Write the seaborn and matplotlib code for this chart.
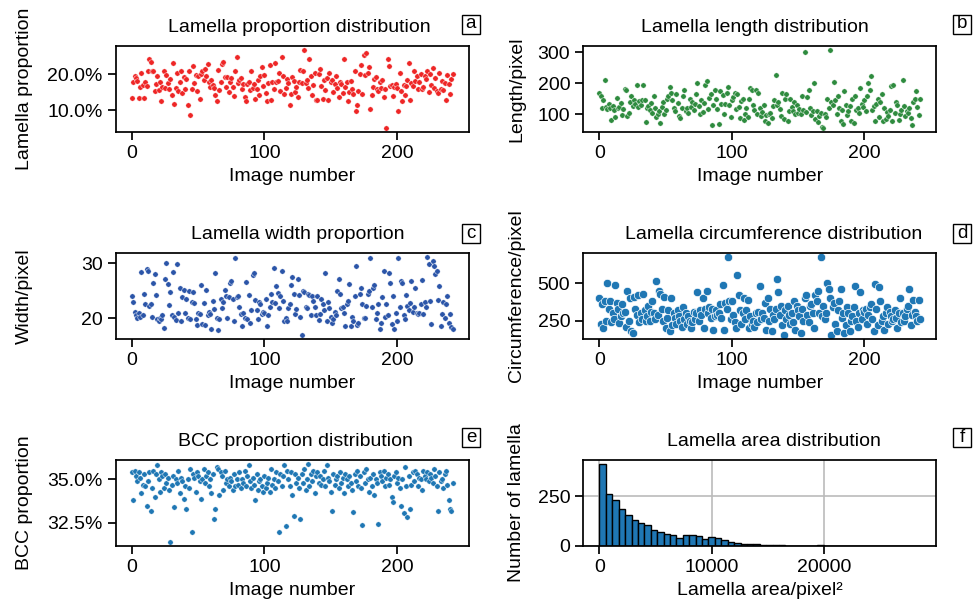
import numpy as np
import pandas as pd
import matplotlib
matplotlib.use('Agg')
import matplotlib.pyplot as plt
from matplotlib.patches import Rectangle
from matplotlib.ticker import MultipleLocator, PercentFormatter
import seaborn as sns

sns.set_theme(style='ticks')
plt.rcParams['font.family'] = ['Liberation Sans', 'DejaVu Sans']
plt.rcParams['axes.edgecolor'] = 'black'
plt.rcParams['xtick.color'] = 'black'
plt.rcParams['ytick.color'] = 'black'
plt.rcParams['text.color'] = 'black'
plt.rcParams['axes.labelcolor'] = 'black'

FS = 14

# --- data ---
lamella_prop = [  # %
    13.5, 17.8, 19.5, 19.0, 18.2, 13.5, 16.5, 20.5, 17.0, 13.5, 18.0, 16.8, 20.8, 24.2, 23.5, 21.0, 20.8, 15.5, 17.2, 19.5,
    15.6, 18.0, 12.6, 16.5, 21.0, 16.2, 19.8, 17.5, 15.8, 18.8, 14.2, 23.2, 11.8, 16.2, 20.5, 15.3, 17.9, 20.8, 14.8, 19.4,
    16.0, 18.6, 11.6, 20.8, 8.7, 15.8, 22.2, 17.5, 19.8, 15.5, 19.6, 13.2, 20.0, 21.0, 18.5, 21.6, 19.5, 22.8, 17.8, 16.5,
    18.4, 17.0, 16.2, 14.2, 12.6, 21.2, 15.6, 17.8, 23.0, 23.4, 19.4, 16.5, 19.2, 15.0, 17.8, 19.0, 16.4, 14.0, 20.8, 24.8,
    17.6, 18.4, 19.0, 16.0, 17.2, 13.7, 12.5, 17.4, 17.8, 15.6, 21.0, 16.2, 17.4, 13.2, 15.8, 18.5, 14.2, 19.5, 22.0, 16.8,
    19.8, 14.8, 12.6, 17.5, 22.6, 12.8, 18.0, 16.0, 23.2, 17.8, 18.2, 20.3, 15.5, 24.8, 19.5, 14.6, 16.2, 18.8, 17.5, 11.5,
    14.5, 19.4, 18.2, 15.2, 16.6, 13.8, 18.0, 21.2, 17.6, 21.0, 26.8, 17.5, 18.5, 16.2, 24.4, 19.5, 14.2, 17.0, 20.5, 13.0,
    13.0, 20.0, 21.5, 16.8, 13.2, 18.4, 15.6, 19.0, 12.8, 20.5, 17.8, 18.5, 15.0, 17.2, 19.6, 16.2, 13.6, 18.0, 17.4, 14.8,
    24.3, 16.5, 18.0, 12.6, 15.2, 18.2, 16.0, 14.6, 21.0, 9.8, 11.6, 15.4, 20.2, 22.5, 14.5, 25.4, 19.8, 26.0, 20.5, 22.0,
    10.3, 14.2, 16.5, 18.8, 19.3, 16.0, 15.5, 17.8, 16.2, 18.4, 13.8, 16.0, 5.0, 24.2, 22.3, 16.8, 17.0, 14.0, 16.5, 17.2,
    16.2, 9.8, 20.5, 15.5, 12.5, 17.0, 14.2, 16.8, 18.3, 23.2, 13.0, 17.5, 16.8, 20.8, 18.2, 19.6, 16.0, 17.8, 20.2, 15.8,
    16.5, 19.5, 18.8, 21.0, 15.2, 20.2, 17.0, 21.8, 16.2, 19.0, 15.4, 14.8, 20.5, 16.0, 18.2, 15.6, 17.5, 13.0, 19.8, 17.2,
    14.5, 18.6, 20.0,
]

lamella_length = [
    168, 158, 120, 145, 212, 125, 118, 135, 122, 82, 128, 115, 90, 152, 120, 125, 138, 98, 118, 182,
    180, 96, 105, 140, 160, 128, 145, 132, 196, 125, 142, 130, 145, 196, 145, 75, 120, 128, 115, 138,
    105, 158, 120, 90, 100, 110, 72, 125, 140, 100, 115, 150, 160, 188, 168, 145, 122, 110, 165, 138,
    95, 88, 120, 160, 178, 110, 120, 105, 150, 125, 140, 115, 135, 165, 200, 128, 100, 145, 108, 138,
    195, 208, 118, 152, 165, 67, 130, 180, 150, 118, 68, 175, 132, 162, 100, 135, 170, 188, 130, 92,
    145, 155, 170, 118, 165, 125, 88, 142, 148, 82, 100, 120, 90, 150, 185, 178, 130, 115, 178, 100,
    168, 120, 95, 108, 130, 80, 98, 72, 102, 105, 88, 128, 145, 228, 130, 140, 118, 95, 170, 85,
    150, 165, 80, 110, 148, 125, 110, 140, 100, 130, 105, 118, 102, 160, 115, 302, 108, 155, 180, 122,
    98, 110, 200, 85, 112, 75, 95, 105, 60, 55, 100, 90, 150, 120, 308, 140, 130, 205, 145, 100,
    160, 120, 80, 115, 70, 175, 130, 98, 110, 128, 80, 148, 72, 158, 115, 120, 105, 185, 135, 125,
    145, 110, 160, 200, 180, 225, 115, 128, 78, 135, 150, 92, 140, 165, 78, 120, 85, 108, 95, 115,
    190, 78, 195, 105, 140, 130, 82, 100, 115, 210, 128, 95, 112, 105, 120, 88, 65, 140, 148, 175,
    125, 98, 150,
]

lamella_width = [
    24.1, 23.0, 21.2, 20.6, 20.0, 21.0, 20.2, 28.5, 20.5, 24.5, 22.5, 29.0, 28.7, 22.2, 22.6, 20.2, 26.4, 28.0, 24.2, 19.8,
    19.5, 20.0, 19.8, 20.5, 18.2, 27.2, 30.0, 26.2, 22.4, 24.8, 20.5, 28.5, 20.2, 19.6, 29.8, 21.0, 25.5, 19.5, 23.8, 25.2,
    21.0, 23.5, 20.0, 25.0, 19.8, 23.0, 24.8, 22.8, 19.9, 18.8, 21.0, 20.8, 26.0, 19.0, 22.8, 18.8, 25.2, 20.5, 21.2, 20.8,
    18.0, 23.2, 21.6, 28.2, 20.0, 17.8, 19.8, 23.5, 21.8, 23.0, 25.2, 24.0, 20.0, 23.8, 26.5, 26.8, 23.5, 19.5, 31.0, 23.8,
    24.0, 22.0, 20.8, 18.5, 21.0, 20.0, 26.6, 19.8, 24.2, 19.2, 21.5, 27.8, 28.2, 23.4, 21.5, 19.8, 23.0, 22.5, 20.8, 21.2,
    21.0, 23.5, 18.5, 20.6, 22.0, 24.5, 23.0, 29.2, 22.8, 25.8, 24.6, 21.8, 24.0, 28.6, 23.2, 19.5, 20.0, 19.5, 21.8, 22.5,
    26.0, 27.5, 24.5, 20.8, 21.6, 27.2, 24.2, 20.2, 16.9, 25.0, 24.8, 22.0, 21.8, 24.5, 24.2, 20.6, 24.0, 23.2, 22.0, 20.5,
    24.0, 19.6, 20.8, 23.5, 22.5, 21.5, 28.2, 19.5, 23.0, 21.8, 20.2, 19.2, 19.8, 21.2, 20.5, 25.0, 27.2, 24.5, 21.8, 22.0,
    21.0, 18.5, 22.5, 23.2, 26.2, 18.5, 20.2, 19.5, 24.0, 29.6, 18.8, 19.2, 24.5, 25.5, 22.5, 20.0, 20.0, 22.2, 24.5, 25.0,
    31.0, 22.0, 25.5, 26.0, 19.8, 21.0, 22.5, 18.0, 19.2, 23.8, 28.6, 20.2, 22.6, 20.5, 28.2, 26.5, 19.0, 24.0, 18.0, 21.0,
    19.5, 31.0, 22.0, 26.8, 26.5, 20.5, 19.8, 24.2, 22.2, 21.5, 22.8, 26.8, 21.2, 22.0, 25.5, 21.0, 20.8, 21.0, 22.5, 27.0,
    20.8, 23.0, 22.0, 31.2, 29.8, 23.2, 19.0, 30.5, 29.6, 28.0, 28.6, 23.3, 25.8, 18.5, 20.8, 23.0, 20.0, 22.5, 24.0, 19.2,
    20.8, 18.4, 18.0,
]

lamella_circ = [
    400, 230, 360, 200, 380, 250, 505, 330, 380, 240, 300, 260, 490, 370, 330, 235, 280, 360, 300, 310,
    210, 450, 250, 400, 180, 170, 410, 330, 290, 420, 240, 300, 260, 430, 320, 250, 280, 350, 250, 310,
    380, 300, 260, 518, 290, 450, 430, 330, 250, 410, 200, 270, 320, 180, 400, 220, 300, 270, 230, 320,
    280, 250, 210, 340, 260, 300, 230, 280, 250, 200, 240, 310, 260, 300, 444, 250, 320, 290, 400, 200,
    330, 450, 300, 340, 270, 330, 190, 280, 320, 290, 300, 360, 270, 489, 190, 370, 330, 678, 380, 260,
    380, 290, 240, 200, 556, 420, 320, 230, 300, 400, 260, 320, 390, 200, 280, 230, 250, 210, 300, 240,
    310, 482, 260, 300, 270, 370, 190, 400, 250, 330, 180, 290, 260, 330, 533, 440, 290, 350, 220, 154,
    320, 260, 350, 290, 230, 300, 240, 380, 190, 350, 320, 280, 170, 330, 250, 400, 420, 290, 240, 350,
    360, 300, 200, 420, 380, 450, 300, 678, 280, 350, 260, 300, 505, 460, 400, 154, 340, 370, 230, 180,
    320, 380, 460, 270, 300, 170, 220, 340, 300, 180, 250, 280, 340, 480, 250, 210, 300, 440, 260, 320,
    310, 330, 230, 290, 340, 360, 260, 180, 495, 330, 220, 473, 380, 250, 280, 190, 300, 340, 230, 310,
    280, 250, 260, 320, 270, 200, 300, 400, 240, 300, 250, 280, 330, 350, 460, 220, 290, 390, 310, 280,
    250, 390, 260,
]

bcc_prop = [  # %
    35.4, 33.8, 35.5, 35.2, 34.9, 35.4, 35.1, 34.2, 34.7, 35.3, 34.6, 33.5, 34.9, 35.4, 33.2, 34.5, 35.5, 34.0, 35.3, 35.8,
    35.0, 34.3, 35.4, 35.2, 34.5, 35.3, 34.8, 35.1, 34.4, 31.4, 34.7, 35.2, 33.4, 35.0, 34.8, 35.5, 34.2, 35.1, 34.9, 33.9,
    34.6, 33.3, 35.0, 34.5, 35.6, 32.0, 35.3, 35.1, 34.3, 35.4, 35.2, 34.9, 33.9, 35.0, 35.6, 34.8, 35.2, 35.4, 34.6, 35.0,
    34.2, 35.3, 32.7, 33.3, 35.7, 35.6, 34.1, 35.4, 35.2, 34.4, 35.5, 34.8, 35.0, 34.6, 35.1, 34.9, 34.4, 35.3, 34.6, 35.0,
    34.7, 35.4, 34.5, 35.0, 34.8, 35.5, 34.6, 35.2, 35.8, 34.9, 34.5, 35.1, 34.7, 33.8, 35.3, 34.4, 34.9, 35.0, 34.6, 34.3,
    35.2, 34.5, 34.8, 35.1, 34.3, 35.6, 34.7, 35.0, 34.5, 35.4, 34.9, 32.0, 35.3, 34.6, 35.2, 35.8, 32.3, 35.5, 35.0, 34.6,
    35.4, 34.1, 32.9, 35.3, 34.8, 35.1, 34.5, 32.75, 35.3, 34.8, 35.6, 34.4, 35.0, 35.9, 34.6, 35.3, 34.9, 35.5, 34.2, 35.2,
    35.4, 34.8, 35.2, 34.7, 35.0, 35.5, 34.6, 35.8, 35.1, 34.9, 34.3, 33.2, 35.3, 34.7, 35.0, 35.2, 34.5, 35.4, 34.8, 35.1,
    34.2, 35.3, 35.0, 34.6, 35.2, 34.8, 34.4, 33.1, 35.3, 34.9, 35.5, 34.6, 35.2, 34.5, 32.4, 35.4, 34.8, 35.6, 35.0, 34.3,
    35.1, 34.6, 35.3, 34.1, 35.0, 34.8, 32.45, 35.4, 35.2, 34.9, 35.5, 34.6, 35.1, 35.3, 34.7, 35.0, 34.0, 33.7, 35.2, 35.4,
    34.8, 35.1, 34.5, 33.5, 35.0, 33.05, 35.7, 34.6, 32.85, 35.2, 33.3, 34.7, 35.4, 34.9, 35.5, 35.3, 34.6, 35.1, 35.0, 34.4,
    35.5, 35.2, 35.0, 35.4, 34.9, 35.3, 35.1, 34.8, 35.6, 35.2, 34.6, 33.2, 35.4, 34.9, 35.0, 34.5, 35.3, 35.5, 34.7, 33.8,
    33.3, 33.2, 34.8,
]

# histogram of lamella area: 50 bins between 0 and 28500 px^2
area_edges = np.linspace(0, 28500, 51)
area_counts = [
    412, 263, 230, 188, 155, 130, 113, 103, 82, 70,
    62, 55, 40, 55, 55, 48, 33, 44, 40, 28,
    20, 14, 12, 8, 8, 5, 4, 3, 3, 2,
    2, 1, 2, 2, 3, 2, 1, 1, 1, 1,
    0, 1, 1, 0, 1, 1, 0, 1, 0, 1,
]

RED = '#ee2626'
GREEN = '#2e8b3e'
NAVY = '#2b55a8'
BLUE = '#1f77b4'

fig, axes = plt.subplots(3, 2, figsize=(9.75, 6.11), dpi=100)
fig.subplots_adjust(left=116 / 975, right=936 / 975, top=1 - 46 / 611,
                    bottom=1 - 546 / 611, wspace=0.326, hspace=1.40)


def scatter_panel(ax, vals, color, size, title, ylabel, title_x):
    idx = np.arange(len(vals))
    sns.scatterplot(x=idx, y=vals, ax=ax, color=color, s=size)
    ax.set_title(title, fontsize=FS, x=title_x, pad=10)
    ax.set_xlabel('Image number', fontsize=FS)
    ax.set_ylabel(ylabel, fontsize=FS)
    ax.xaxis.set_major_locator(MultipleLocator(100))


scatter_panel(axes[0, 0], lamella_prop, RED, 15,
              'Lamella proportion distribution', 'Lamella proportion', 0.52)
axes[0, 0].yaxis.set_major_locator(MultipleLocator(10))
axes[0, 0].yaxis.set_major_formatter(PercentFormatter(100, decimals=1))

scatter_panel(axes[0, 1], lamella_length, GREEN, 15,
              'Lamella length distribution', 'Length/pixel', 0.485)
axes[0, 1].yaxis.set_major_locator(MultipleLocator(100))

scatter_panel(axes[1, 0], lamella_width, NAVY, 15,
              'Lamella width proportion', 'Width/pixel', 0.515)
axes[1, 0].yaxis.set_major_locator(MultipleLocator(10))

scatter_panel(axes[1, 1], lamella_circ, BLUE, 36,
              'Lamella circumference distribution', 'Circumference/pixel', 0.54)
axes[1, 1].yaxis.set_major_locator(MultipleLocator(250))

scatter_panel(axes[2, 0], bcc_prop, BLUE, 15,
              'BCC proportion distribution', 'BCC proportion', 0.51)
axes[2, 0].yaxis.set_major_locator(MultipleLocator(2.5))
axes[2, 0].yaxis.set_major_formatter(PercentFormatter(100, decimals=1))

# area histogram, bin counts as weights
ax = axes[2, 1]
area_df = pd.DataFrame({
    'area': (area_edges[:-1] + area_edges[1:]) / 2,
    'count': area_counts,
})
sns.histplot(data=area_df, x='area', weights='count', bins=list(area_edges), ax=ax,
             color=BLUE, alpha=1, edgecolor='black', linewidth=1)
ax.set_title('Lamella area distribution', fontsize=FS, x=0.54, pad=10)
ax.set_xlabel('Lamella area/pixel²', fontsize=FS)
ax.set_ylabel('Number of lamella', fontsize=FS)
ax.xaxis.set_major_locator(MultipleLocator(10000))
ax.yaxis.set_major_locator(MultipleLocator(250))
ax.grid(True, color='#bbbbbb', linewidth=1.2)
ax.set_axisbelow(True)

for a in axes.flat:
    a.tick_params(labelsize=FS)
for a in axes[:, 0]:
    a.yaxis.set_label_coords(-0.235, 0.5)
for a in axes[:, 1]:
    a.yaxis.set_label_coords(-0.165, 0.5)

# panel letters in small boxes
letters = ['a', 'b', 'c', 'd', 'e', 'f']
centers_px = [(471, 24), (962, 24), (471, 233), (962, 233), (471, 438), (962, 438)]
for lab, (cx, cy) in zip(letters, centers_px):
    fx, fy = cx / 975, 1 - cy / 611
    fig.patches.append(Rectangle((fx - 9 / 975, fy - 9.5 / 611), 18 / 975, 19 / 611,
                                 transform=fig.transFigure, facecolor='white',
                                 edgecolor='black', linewidth=1))
    fig.text(fx, fy, lab, ha='center', va='center', fontsize=13.5)

fig.savefig('out.png', dpi=100)
